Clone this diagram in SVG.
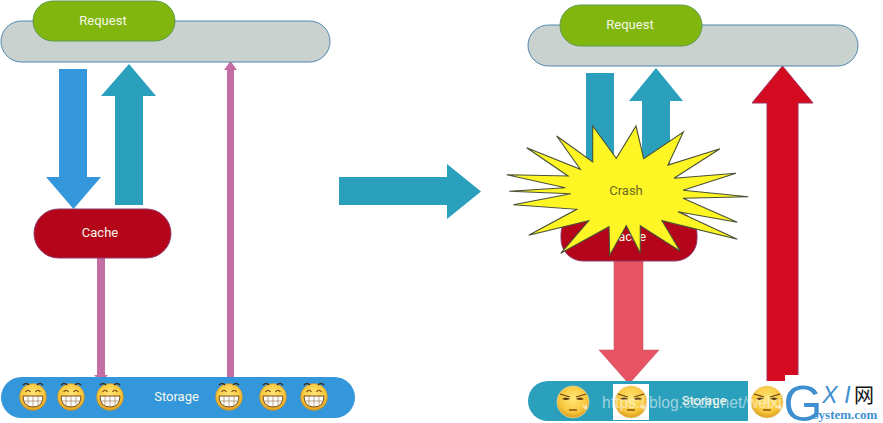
<svg xmlns="http://www.w3.org/2000/svg" width="883" height="423" viewBox="0 0 883 423">
<style>
text{font-family:Roboto,"Liberation Sans",sans-serif;text-anchor:middle}
.lbl{font-size:13px;fill:#f4f8e8}
.gray{fill:#c9d2ce;stroke:#4f86ad;stroke-width:1}
.green{fill:#80b60e;stroke:#5f9a4a;stroke-width:1}
.red{fill:#b5051a;stroke:#8c3c68;stroke-width:1}
.blue{fill:#3497db}
.teal{fill:#2aa0bd}
.pink{fill:#c46da2}
</style>
<defs>
<radialGradient id="gf" cx="50%" cy="40%" r="60%"><stop offset="0" stop-color="#ffe67a"/><stop offset="0.7" stop-color="#f8c83c"/><stop offset="1" stop-color="#d99a1e"/></radialGradient>
<g id="grin">
<circle r="13.5" fill="url(#gf)" stroke="#b98a3a" stroke-width="0.6"/>
<path d="M-10-12q3-3 6 0M4-12q3-3 6 0" fill="none" stroke="#3a3020" stroke-width="1.6"/>
<path d="M-7.5-5q2.5-3.5 5 0M2.5-5q2.500-3.500 5 0" fill="none" stroke="#7a4a10" stroke-width="1.2"/>
<path d="M-10-1H10Q10 10 0 10Q-10 10-10-1Z" fill="#fff" stroke="#7a4a10" stroke-width="1"/>
<path d="M-5-1V9M0-1V10M5-1V9M-10 4H10" stroke="#a08050" stroke-width="0.7"/>
</g>
<g id="meh">
<circle r="16" fill="url(#gf)" stroke="#e8d090" stroke-width="0.8"/>
<path d="M-13-8L-3-5M3-5L13-8" stroke="#6a4010" stroke-width="1.200"/>
<path d="M-11-3Q-7-6-3-3Q-7-1-11-3ZM3-3Q7-6 11-3Q7-1 3-3Z" fill="#5a3a10"/>
<path d="M-4 8H4" stroke="#8a5010" stroke-width="1.500"/>
<path d="M9 3l3 1 1-3 1 4 1 1-3 2z" fill="#fff" fill-opacity="0.6"/>
</g>
</defs>
<g id="connectors">
<polygon class="blue" points="59,69 87,69 87,177 101,177 73.500,209 46,177 59,177"/>
<polygon class="teal" points="115,205 143,205 143,96 156,96 129,64 101,96 115,96"/>
<polygon class="pink" points="97,258 105,258 105,375 108,375 101,382 94,375 97,375"/>
<polygon class="pink" points="227,378 234,378 234,70 237,70 230.500,61 224,70 227,70"/>
<polygon class="teal" points="339,177 447,177 447,164 481,191.500 447,219 447,205 339,205"/>
<polygon class="teal" points="586,73 614,73 614,170 586,170"/>
<polygon class="teal" points="642,170 670,170 670,101 683,101 656,68 629,101 642,101"/>
<polygon fill="#d40b20" stroke="#a03058" stroke-width="1" points="767,385 798,385 798,103 813,103 782.500,66 752,103 767,103"/>
<polygon fill="#e85463" stroke="#b8505e" stroke-width="0.500" points="614,261 643,261 643,350 659,350 629,384 599,350 614,350"/>
</g>
<g id="left-request-bar"><rect class="gray" x="1" y="21" width="329" height="41" rx="20.500"/></g>
<g id="left-request"><rect class="green" x="33" y="1" width="142" height="40" rx="20"/><text class="lbl" x="103" y="25">Request</text></g>
<g id="left-cache"><rect class="red" x="34" y="209" width="137" height="49" rx="24.500"/><text class="lbl" x="100" y="237">Cache</text></g>
<g id="left-storage"><rect x="1" y="377" width="354" height="41" rx="20.500" fill="#3497db"/><text class="lbl" x="176.500" y="401">Storage</text>
<use href="#grin" x="33" y="397"/><use href="#grin" x="71" y="397"/><use href="#grin" x="110" y="397"/><use href="#grin" x="229" y="397"/><use href="#grin" x="273" y="397"/><use href="#grin" x="314" y="397"/></g>
<g id="right-request-bar"><rect class="gray" x="528" y="25" width="330" height="41" rx="20.500"/></g>
<g id="right-request"><rect class="green" x="560" y="5" width="142" height="41" rx="20.500"/><text class="lbl" x="630" y="29">Request</text></g>
<g id="right-cache"><rect class="red" x="561" y="212" width="136" height="49" rx="22"/><text class="lbl" x="628" y="241">Cache</text></g>
<g id="crash"><polygon fill="#fdf524" stroke="#4a5038" stroke-width="1.100" points="592.700,126 616.300,158.300 636,126 643.700,158.700 683.300,132 668,165 720,148.700 674,178.300 736,173.300 683,190.300 748.300,196.700 683,198.300 737.300,222.300 678,211.700 737.300,239.300 662,220.700 680.300,251.300 640.300,225.700 640.300,253.300 626.300,225.700 609.700,255.300 609,226.700 560.700,253.300 588.700,220.700 528.700,235.300 576.700,209.300 513.300,204.700 570.700,193.700 509.300,191.300 565.300,187.700 506.700,174.700 568,176 526.700,147.700 580.300,169.300 556.700,136 592.700,162"/><text x="626" y="195" font-size="13px" fill="#6a6a20">Crash</text></g>
<g id="right-storage"><rect x="528" y="381" width="260" height="40" rx="20" fill="#2aa0bd"/>
<rect x="613" y="384" width="36" height="36" fill="#fff"/><rect x="748" y="381" width="37" height="40" fill="#fff"/>
<use href="#meh" x="573" y="402"/><use href="#meh" x="631" y="402"/><use href="#meh" x="767" y="402"/>
<text class="lbl" x="704" y="405">Storage</text></g>
<g id="watermark"><text x="602" y="408" font-size="15.700px" fill="#fff" fill-opacity="0.55" style="font-family:'Liberation Sans',sans-serif;text-anchor:start">https://blog.csdn.net/weixi</text></g>
<g id="logo"><rect x="785" y="375" width="98" height="48" fill="#fff"/>
<text x="803" y="421" font-size="50px" fill="#3f8fd0" style="font-family:'Liberation Sans',sans-serif">G</text>
<text x="830" y="403" font-size="23px" font-style="italic" fill="#3f8fd0" style="font-family:'Liberation Sans',sans-serif">X</text>
<text x="847.500" y="403" font-size="23px" font-style="italic" fill="#3f8fd0" style="font-family:'Liberation Sans',sans-serif">I</text>
<text x="864" y="403" font-size="20px" fill="#111" style="font-family:'Noto Sans CJK SC',sans-serif">网</text>
<text x="845.500" y="419" font-size="13px" font-weight="bold" fill="#3f8fd0" style="font-family:'Liberation Serif',serif">system.com</text></g>
</svg>
